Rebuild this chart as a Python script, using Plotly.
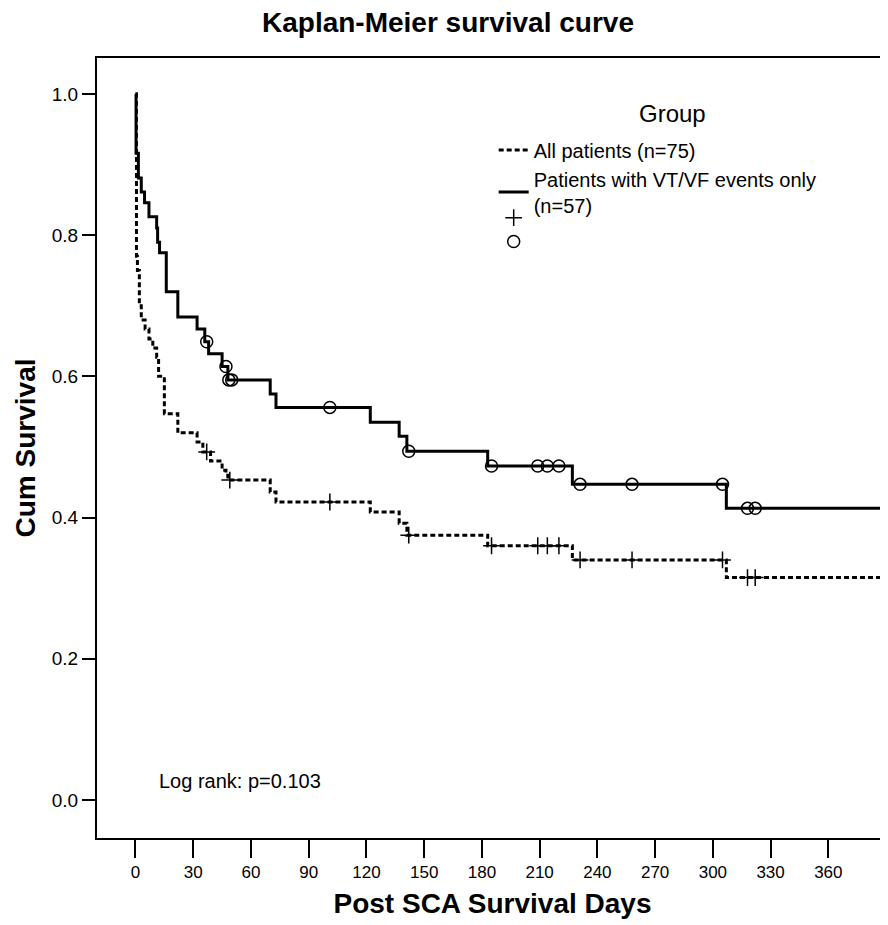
import plotly.graph_objects as go

# ---- data ----
all_times = [0, 0.5, 1, 2, 3, 5, 7, 9, 11, 12, 15, 22, 32, 35, 39, 45, 47, 48,
             70, 73, 122, 137, 141, 183, 227, 307]
all_surv = [1.0, 0.77, 0.75, 0.70, 0.68, 0.667, 0.653, 0.64, 0.627, 0.60, 0.547,
            0.52, 0.507, 0.493, 0.48, 0.467, 0.46, 0.453, 0.436, 0.422, 0.408,
            0.392, 0.375, 0.36, 0.34, 0.315]
all_censor = [37, 49, 101, 142, 185, 209, 214, 220, 231, 258, 305, 318, 322]

vt_times = [0, 0.3, 1.5, 3, 4.7, 7, 11, 11.5, 12.5, 16, 22, 32, 36, 38, 45, 48,
            70, 73, 122, 137, 141, 183, 227, 307]
vt_surv = [1.0, 0.916, 0.881, 0.861, 0.846, 0.826, 0.81, 0.79, 0.775, 0.72, 0.684,
           0.667, 0.649, 0.632, 0.614, 0.595, 0.575, 0.556, 0.535, 0.515, 0.494,
           0.473, 0.447, 0.413]
vt_censor = [37, 47, 48.5, 50, 101, 142, 185, 209, 214, 220, 231, 258, 305, 318, 322]

follow_up_end = 400
x_ticks = list(range(0, 361, 30))
y_ticks = [0.0, 0.2, 0.4, 0.6, 0.8, 1.0]

names = ["All patients (n=75)", "Patients with VT/VF events only<br>(n=57)"]

FONT = "Liberation Sans, Arial, sans-serif"


def surv_at(t, times, surv):
    s = surv[0]
    for ti, si in zip(times, surv):
        if ti <= t:
            s = si
    return s


fig = go.Figure()

fig.add_trace(go.Scatter(
    x=all_times + [follow_up_end], y=all_surv + [all_surv[-1]],
    mode="lines", line=dict(shape="hv", color="black", width=3, dash="5px,3px"),
    name=names[0], legend="legend"))
fig.add_trace(go.Scatter(
    x=vt_times + [follow_up_end], y=vt_surv + [vt_surv[-1]],
    mode="lines", line=dict(shape="hv", color="black", width=3),
    name=names[1], legend="legend"))
fig.add_trace(go.Scatter(
    x=all_censor, y=[surv_at(t, all_times, all_surv) for t in all_censor],
    mode="markers", name=" ", legend="legend2",
    marker=dict(symbol="cross-thin", size=12, line=dict(color="black", width=1.5))))
fig.add_trace(go.Scatter(
    x=vt_censor, y=[surv_at(t, vt_times, vt_surv) for t in vt_censor],
    mode="markers", name=" ", legend="legend2",
    marker=dict(symbol="circle-open", size=12, color="black",
                line=dict(color="black", width=1.5))))

fig.add_annotation(x=11, y=0.027, xref="x", yref="y", text="Log rank: p=0.103",
                   showarrow=False, xanchor="left", yanchor="middle",
                   font=dict(family=FONT, size=20, color="black"))

# legend title
fig.add_annotation(x=0.727, y=0.929, xref="paper", yref="paper", text="Group",
                   showarrow=False, xanchor="center", yanchor="middle",
                   font=dict(family=FONT, size=24, color="black"))

fig.update_layout(
    width=880, height=917,
    margin=dict(l=89, r=0, t=50, b=87),
    paper_bgcolor="white", plot_bgcolor="white",
    title=dict(text="<b>Kaplan-Meier survival curve</b>", x=0.5, xanchor="center",
               y=0.985, yanchor="middle",
               font=dict(family=FONT, size=28, color="black")),
    showlegend=True,
    legend=dict(x=0.5015, y=0.907, xanchor="left", yanchor="top",
                bgcolor="rgba(0,0,0,0)",
                font=dict(family=FONT, size=20, color="black"),
                tracegroupgap=0, itemwidth=30),
    legend2=dict(x=0.5015, y=0.817, xanchor="left", yanchor="top",
                 bgcolor="rgba(0,0,0,0)",
                 font=dict(family=FONT, size=16, color="black"),
                 tracegroupgap=0, itemwidth=30),
    xaxis=dict(range=[-20, 391], tickmode="array", tickvals=x_ticks,
               ticktext=[str(v) for v in x_ticks],
               showgrid=False, zeroline=False, showline=True, linecolor="black",
               linewidth=2, mirror=True, ticks="outside", ticklen=18, tickwidth=2,
               tickcolor="black",
               tickfont=dict(family=FONT, size=17, color="black"),
               title=dict(text="<b>Post SCA Survival Days</b>", standoff=12,
                          font=dict(family=FONT, size=28, color="black"))),
    yaxis=dict(range=[-0.054, 1.051], tickmode="array", tickvals=y_ticks,
               ticktext=[f"{v:.1f}" for v in y_ticks],
               showgrid=False, zeroline=False, showline=True, linecolor="black",
               linewidth=2, ticks="outside", ticklen=13, tickwidth=2,
               tickcolor="black",
               tickfont=dict(family=FONT, size=19, color="black"),
               title=dict(text="<b>Cum Survival</b>", standoff=8,
                          font=dict(family=FONT, size=28, color="black"))),
)

fig.write_html("out.html")
